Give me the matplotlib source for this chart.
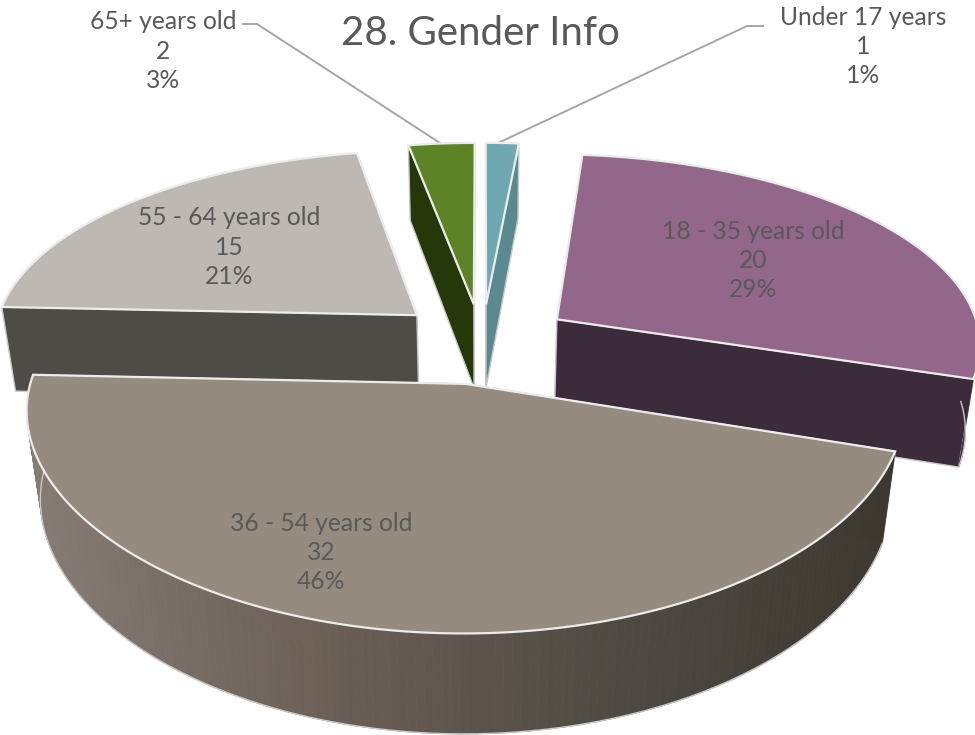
import numpy as np
from matplotlib import pyplot as plt
from matplotlib.colors import LinearSegmentedColormap
from matplotlib.patches import Polygon

categories = ['Under 17 years', '18 - 35 years old', '36 - 54 years old',
              '55 - 64 years old', '65+ years old']
values = [1, 20, 32, 15, 2]
top_colors = ['#6fa8b0', '#93678a', '#958b7f', '#bdb8b1', '#5c8427']
side_colors = ['#5a8a90', '#3b2b3b', '#3c3830', '#4e4c47', '#243809']
title = '28. Gender Info'

# pie geometry, pixels of the picture
CX, CY = 482.0, 345.0
RX, RY = 425.0, 190.0
PERSP = 0.12
DEPTH = 86.0
SAG = 16.0
explode = [0.22, 0.22, 0.2, 0.21, 0.22]
nudge = [(0, 0), (-2, -3), (-1, 0), (1, -4), (0, 0)]

plt.rcParams['font.family'] = ['Lato', 'DejaVu Sans']
rim_cmap = LinearSegmentedColormap.from_list(
    'rim', [(0.0, '#857c73'), (0.33, '#6c6057'), (0.67, '#4f4a43'), (1.0, '#3c3830')])


def project(u, v, z=0.0):
    w = 1.0 - PERSP * v
    y = CY + RY * v / w + SAG * np.clip(v, 0, None) ** 2 + DEPTH * z / w
    return CX + RX * u / (w + 0.03 * z), y


def pts(u, v, z=0.0, shift=(0, 0)):
    x, y = project(np.asarray(u), np.asarray(v), z)
    return np.column_stack([x + shift[0], y + shift[1]])


fig = plt.figure(figsize=(9.75, 7.35), dpi=100)
ax = fig.add_axes([0, 0, 1, 1])
ax.set_xlim(0, 975)
ax.set_ylim(735, 0)
ax.axis('off')

total = float(sum(values))
edges = np.concatenate([[0.0], np.cumsum(values)]) / total * 2 * np.pi
# back slices first, the big front one last
order = [4, 0, 3, 1, 2]
for i in order:
    t0, t1 = edges[i], edges[i + 1]
    tm = (t0 + t1) / 2
    ou, ov = explode[i] * np.sin(tm), -explode[i] * np.cos(tm)
    t = np.linspace(t0, t1, 160)
    u = ou + np.sin(t)
    v = ov - np.cos(t)
    zorder = 2 + order.index(i) * 3
    sh = nudge[i]

    # the two cut faces, the farther one first
    for k in sorted((0, -1), key=lambda n: v[n]):
        face = np.vstack([pts([ou, u[k]], [ov, v[k]], 0.0, sh),
                          pts([u[k], ou], [v[k], ov], 1.0, sh)])
        ax.add_patch(Polygon(face, closed=True, fc=side_colors[i], ec='#c8c8c8',
                             lw=1.0, zorder=zorder))

    # outer rim, only the part that faces the viewer
    front = np.cos(t) < 0.02
    rim_top = pts(u[front], v[front], 0.0, sh)
    rim_bot = pts(u[front], v[front], 1.0, sh)
    if i == 2:
        for j in range(len(rim_top) - 1):
            quad = np.vstack([rim_top[j:j + 2], rim_bot[j:j + 2][::-1]])
            frac = (quad[:, 0].mean() - 30) / (895 - 30)
            c = rim_cmap(np.clip(frac, 0, 1))
            ax.add_patch(Polygon(quad, closed=True, fc=c, ec=c, lw=0.6, zorder=zorder + 1))
    elif front.sum() > 1:
        ax.add_patch(Polygon(np.vstack([rim_top, rim_bot[::-1]]), closed=True,
                             fc=side_colors[i], ec=side_colors[i], lw=0.6, zorder=zorder + 1))
    if front.sum() > 1:
        ax.plot(rim_bot[:, 0], rim_bot[:, 1], color='#c8c8c8', lw=1.0, zorder=zorder + 1)

    # top face
    top = np.vstack([pts([ou], [ov], 0.0, sh), pts(u, v, 0.0, sh)])
    ax.add_patch(Polygon(top, closed=True, fc=top_colors[i], ec='#ececec',
                         lw=1.6, zorder=zorder + 2))

# data labels: name, value, share
label_pos = [(863, 46.5), (753, 260.5), (321, 552.5), (229, 247), (163, 51)]
for name, val, (lx, ly) in zip(categories, values, label_pos):
    share = round(val / total * 100)
    ax.text(lx, ly, '%s\n%d\n%d%%' % (name, val, share), ha='center', va='center',
            fontsize=17.7, color='#595959', linespacing=1.32, zorder=40)

# leader lines
ax.plot([243, 257, 440], [24, 24, 143], color='#a6a6a6', lw=1.4, zorder=1)
ax.plot([763, 747, 498], [26, 26, 143], color='#a6a6a6', lw=1.4, zorder=1)

ax.text(480, 33, title, ha='center', va='center', fontsize=29, color='#595959', zorder=40)

fig.savefig('out.png', dpi=100)
